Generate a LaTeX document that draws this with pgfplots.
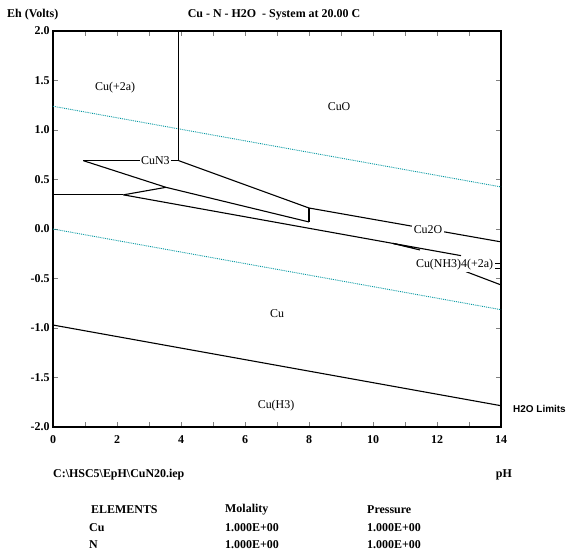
\documentclass[border=0pt]{standalone}
\usepackage{fontspec}
\setmainfont{Liberation Serif}
\newfontfamily\arialfont{Liberation Sans}
\usepackage{pgfplots}
\pgfplotsset{compat=1.18}
\definecolor{waterline}{RGB}{0,150,160}
\begin{document}
\begin{tikzpicture}
\path[use as bounding box] (0bp,0bp) rectangle (568bp,556bp);
\begin{axis}[
  at={(53bp,129bp)}, anchor=south west,
  scale only axis, width=448bp, height=396bp,
  xmin=0, xmax=14, ymin=-2, ymax=2,
  axis line style={line width=2.4bp},
  tick align=inside,
  major tick length=5bp, minor tick length=5bp,
  tick style={gray, line width=0.8bp},
  xtick={0,2,...,14}, minor xtick={1,3,...,13},
  ytick={-2,-1.5,...,2},
  /pgf/number format/assume math mode=true,
  xticklabel style={font=\bfseries\fontsize{12}{12}\selectfont, yshift=-5bp},
  yticklabel style={font=\bfseries\fontsize{12}{12}\selectfont,
    /pgf/number format/.cd, fixed, fixed zerofill, precision=1},
  bd/.style={black, solid, line width=1.1bp, mark=none},
  wl/.style={waterline, densely dotted, line width=0.9bp, mark=none},
  clip=true,
  after end axis/.code={
    \begin{scope}[every node/.style={font=\fontsize{12}{12}\selectfont}]
    \node at (axis cs:1.94,1.43) {Cu(+2a)};
    \node at (axis cs:8.94,1.24) {CuO};
    \node[fill=white, inner sep=1.5pt] at (axis cs:3.2,0.69) {CuN3};
    \node[fill=white, inner sep=1.5pt] at (axis cs:11.72,-0.01) {Cu2O};
    \node[fill=white, inner sep=1.5pt] at (axis cs:12.55,-0.364) {Cu(NH3)4(+2a)};
    \node at (axis cs:7.0,-0.85) {Cu};
    \node at (axis cs:6.97,-1.78) {Cu(H3)};
    \end{scope}
  },
]
% water limits
\addplot[wl] coordinates {(0,1.24) (14,0.425)};
\addplot[wl] coordinates {(0,0) (14,-0.815)};
% Cu(+2a)/CuO vertical
\addplot[bd] coordinates {(3.93,2.0) (3.93,0.69)};
% CuN3 top
\addplot[bd] coordinates {(0.95,0.69) (3.93,0.69)};
% CuN3 / CuO
\addplot[bd] coordinates {(3.93,0.69) (8.0,0.212)};
% pH 8 vertical
\addplot[bd] coordinates {(8.0,0.212) (8.0,0.071)};
% Cu2O / CuO
\addplot[bd] coordinates {(8.0,0.212) (14,-0.13)};
% CuN3 lower boundary
\addplot[bd] coordinates {(0.95,0.69) (3.53,0.421) (8.0,0.071)};
% Cu / Cu(+2a)
\addplot[bd] coordinates {(0,0.345) (2.2,0.345)};
\addplot[bd] coordinates {(2.2,0.345) (3.53,0.421)};
% Cu / Cu2O
\addplot[bd] coordinates {(2.2,0.345) (10.63,-0.146) (12.75,-0.269)};
% Cu(NH3)4 wedge
\addplot[bd] coordinates {(10.63,-0.146) (11.25,-0.19)};
\addplot[bd] coordinates {(10.63,-0.146) (11.47,-0.212)};
\addplot[bd] coordinates {(13.75,-0.345) (14,-0.345)};
\addplot[bd] coordinates {(13.75,-0.40) (14,-0.40)};
\addplot[bd] coordinates {(12.9,-0.43) (14,-0.565)};
% Cu / Cu(H3)
\addplot[bd] coordinates {(0,-0.97) (14,-1.785)};
\end{axis}
\begin{scope}[every node/.style={font=\bfseries\fontsize{12}{12}\selectfont, inner sep=0pt}]
\node[anchor=west] at (7bp,541bp) {Eh (Volts)};
\node at (274bp,541bp) {Cu - N - H2O \ - System at 20.00 C};
\node[anchor=west] at (53bp,81bp) {C:\textbackslash HSC5\textbackslash EpH\textbackslash CuN20.iep};
\node[anchor=east] at (512bp,81bp) {pH};
\node[anchor=west] at (91bp,46bp) {ELEMENTS};
\node[anchor=west] at (225bp,46bp) {Molality};
\node[anchor=west] at (367bp,46bp) {Pressure};
\node[anchor=west] at (89bp,28bp) {Cu};
\node[anchor=west] at (225bp,28bp) {1.000E+00};
\node[anchor=west] at (367bp,28bp) {1.000E+00};
\node[anchor=west] at (89bp,11bp) {N};
\node[anchor=west] at (225bp,11bp) {1.000E+00};
\node[anchor=west] at (367bp,11bp) {1.000E+00};
\end{scope}
\node[anchor=west, inner sep=0pt, font=\arialfont\bfseries\fontsize{10}{10}\selectfont] at (513bp,147bp) {H2O Limits};
\end{tikzpicture}
\end{document}
